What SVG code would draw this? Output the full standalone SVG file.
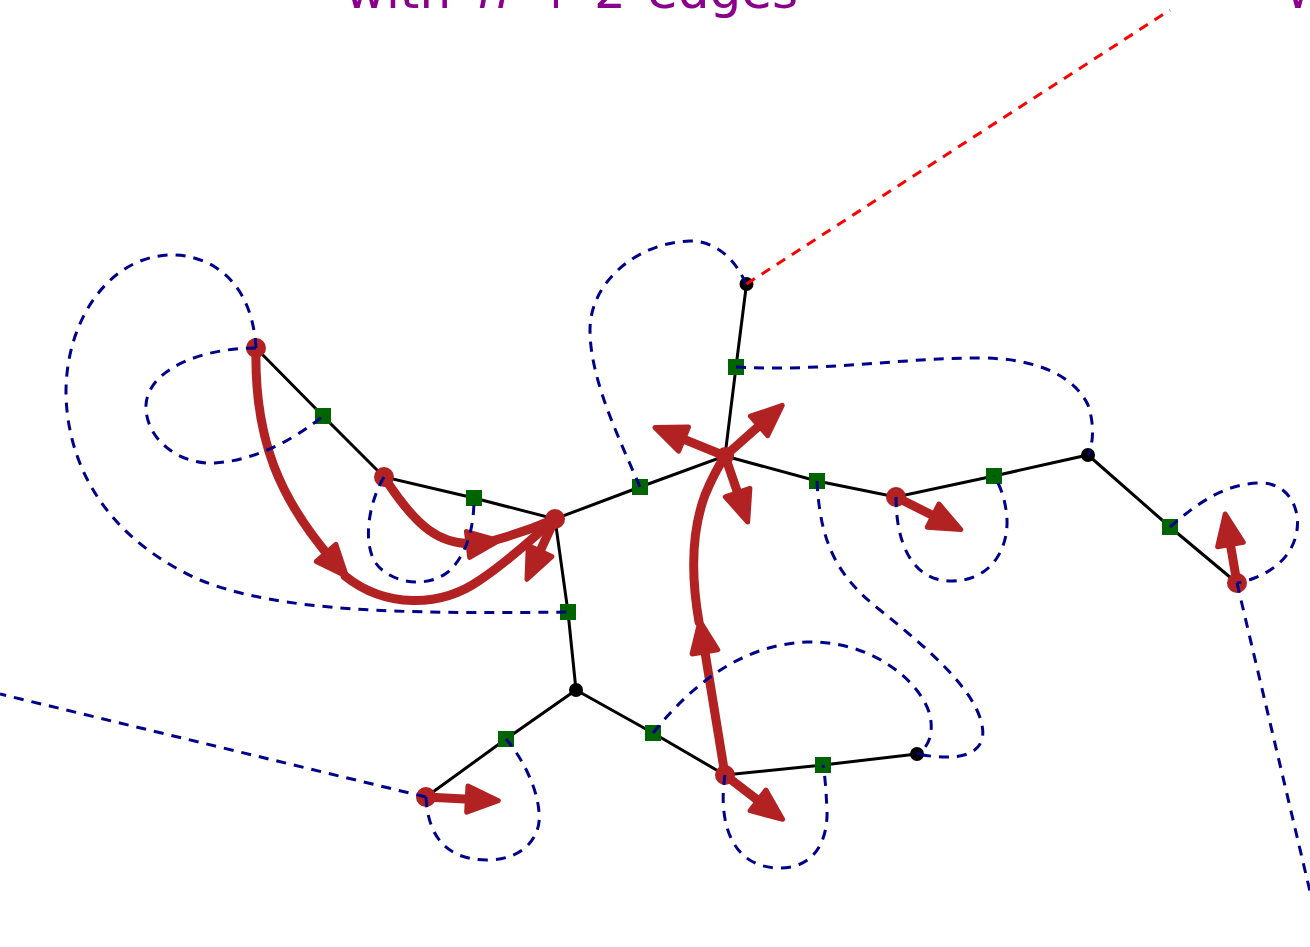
<svg xmlns="http://www.w3.org/2000/svg" width="1310" height="947" viewBox="0 0 1310 947">
<style>
.edge{stroke:#000;stroke-width:3;fill:none}
.dual{stroke:#00008B;stroke-width:3;fill:none;stroke-dasharray:10 8}
.outer{stroke:#FF0000;stroke-width:3;fill:none;stroke-dasharray:10 8}
.arr{stroke:#B22222;stroke-width:9;fill:none;stroke-linecap:round}
.mk{marker-end:url(#ah)}
.red{fill:#B22222}
.blk{fill:#000}
.sq{fill:#006400}
.title{font-family:"DejaVu Sans",sans-serif;font-size:50px;fill:#8B008B}
</style>
<defs>
<marker id="ah" markerUnits="userSpaceOnUse" orient="auto" overflow="visible" markerWidth="1" markerHeight="1">
<path d="M-12,-13 L19,0 L-12,13 Z" fill="#B22222" stroke="#B22222" stroke-width="5" stroke-linejoin="round"/>
</marker>
</defs>
<rect width="1310" height="947" fill="#fff"/>
<text class="title" y="8"><tspan x="345">with</tspan><tspan x="478" font-style="italic">n</tspan><tspan x="535">+</tspan><tspan x="594">2</tspan><tspan x="647">edges</tspan></text>
<text class="title" x="1286" y="8">w</text>
<g id="connectors">
<polyline class="edge" points="256,348 323,416 384,477 474,498 555,519 640,487 725,456 736,367 746.5,284"/>
<polyline class="edge" points="725,456 817,481 896,497 994,476 1088,455 1170,527 1237,583"/>
<polyline class="edge" points="555,519 568,612 576,690 506,739 426,797"/>
<polyline class="edge" points="576,690 653,733 725,775 823,765 917,754"/>
<path class="arr mk" d="M256,348 C254,440 280,500 334,562"/>
<path class="arr" d="M345,576 C385,608 440,608 480,580 C510,560 530,540 555,519"/>
<path class="arr mk" d="M384,477 C415,525 440,548 480,543"/>
<path class="arr" d="M495,540 Q525,532 555,519"/>
<path class="arr mk" d="M725,775 L703,640"/>
<path class="arr" d="M699,622 C690,570 692,530 705,495 C712,478 718,467 725,456"/>
<path class="arr mk" d="M555,519 L535,562"/>
<path class="arr mk" d="M725,456 L672.5,434.6"/>
<path class="arr mk" d="M725,456 L768,418"/>
<path class="arr mk" d="M725,456 L741.5,504"/>
<path class="arr mk" d="M896,497 L943.8,521"/>
<path class="arr mk" d="M1237,583 L1228.4,532.7"/>
<path class="arr mk" d="M426,797 L479.3,799.7"/>
<path class="arr mk" d="M725,775 L767.5,807.7"/>
</g>
<g id="nodes">
<g id="vA"><circle class="red" cx="256" cy="348" r="10"/></g>
<g id="vB"><circle class="red" cx="384" cy="477" r="10"/></g>
<g id="vC"><circle class="red" cx="555" cy="519" r="10"/></g>
<g id="vD"><circle class="red" cx="725" cy="456" r="9"/></g>
<g id="vE"><circle class="blk" cx="746.5" cy="284" r="7"/></g>
<g id="vF"><circle class="red" cx="896" cy="497" r="10"/></g>
<g id="vG"><circle class="blk" cx="1088" cy="455" r="7"/></g>
<g id="vH"><circle class="red" cx="1237" cy="583" r="10"/></g>
<g id="vI"><circle class="blk" cx="576" cy="690" r="7"/></g>
<g id="vJ"><circle class="red" cx="426" cy="797" r="10"/></g>
<g id="vK"><circle class="red" cx="725" cy="775" r="10"/></g>
<g id="vL"><circle class="blk" cx="917" cy="754" r="7"/></g>
<g id="sAB"><rect class="sq" x="315" y="408" width="16" height="16"/></g>
<g id="sBC"><rect class="sq" x="466" y="490" width="16" height="16"/></g>
<g id="sCD"><rect class="sq" x="632" y="479" width="16" height="16"/></g>
<g id="sDE"><rect class="sq" x="728" y="359" width="16" height="16"/></g>
<g id="sDF"><rect class="sq" x="809" y="473" width="16" height="16"/></g>
<g id="sFG"><rect class="sq" x="986" y="468" width="16" height="16"/></g>
<g id="sGH"><rect class="sq" x="1162" y="519" width="16" height="16"/></g>
<g id="sCI"><rect class="sq" x="560" y="604" width="16" height="16"/></g>
<g id="sIJ"><rect class="sq" x="498" y="731" width="16" height="16"/></g>
<g id="sIK"><rect class="sq" x="645" y="725" width="16" height="16"/></g>
<g id="sKL"><rect class="sq" x="815" y="757" width="16" height="16"/></g>
</g>
<g id="dual-connectors">
<path class="dual" d="M256,348 C252,280 210,255 172,255 C110,255 65,320 66,395 C68,470 110,540 200,580 C280,612 400,614 568,612"/>
<path class="dual" d="M256,348 C200,348 148,370 146,405 C145,440 180,465 215,463 C260,460 300,435 323,416"/>
<path class="dual" d="M384,477 C370,500 362,540 375,562 C388,582 425,590 448,572 C466,556 474,530 474,498"/>
<path class="dual" d="M640,487 C620,440 590,380 590,330 C590,280 640,242 690,241 C715,241 735,258 746,284"/>
<path class="dual" d="M736,367 C820,372 900,358 980,358 C1040,358 1075,378 1088,405 C1095,425 1093,445 1088,455"/>
<path class="dual" d="M817,481 C820,540 835,575 880,610 C930,650 975,690 982,725 C988,755 960,762 917,754"/>
<path class="dual" d="M896,497 C896,540 910,580 950,581 C990,582 1008,550 1007,520 C1006,500 1000,485 994,476"/>
<path class="dual" d="M1170,527 C1195,505 1225,483 1260,483 C1290,483 1300,510 1297,530 C1293,560 1265,578 1237,583"/>
<path class="dual" d="M1237,583 L1312,900"/>
<path class="dual" d="M426,797 L0,694"/>
<path class="dual" d="M426,797 C428,840 450,860 487,860 C525,860 542,835 539,812 C537,785 520,755 506,739"/>
<path class="dual" d="M725,775 C718,820 730,868 780,868 C815,868 828,840 827,810 C826,790 825,775 823,765"/>
<path class="dual" d="M653,733 C680,700 730,645 807,642 C870,640 920,680 930,715 C934,735 928,748 917,754"/>
<path class="outer" d="M746.5,284 L1170,10"/>
</g>
</svg>
